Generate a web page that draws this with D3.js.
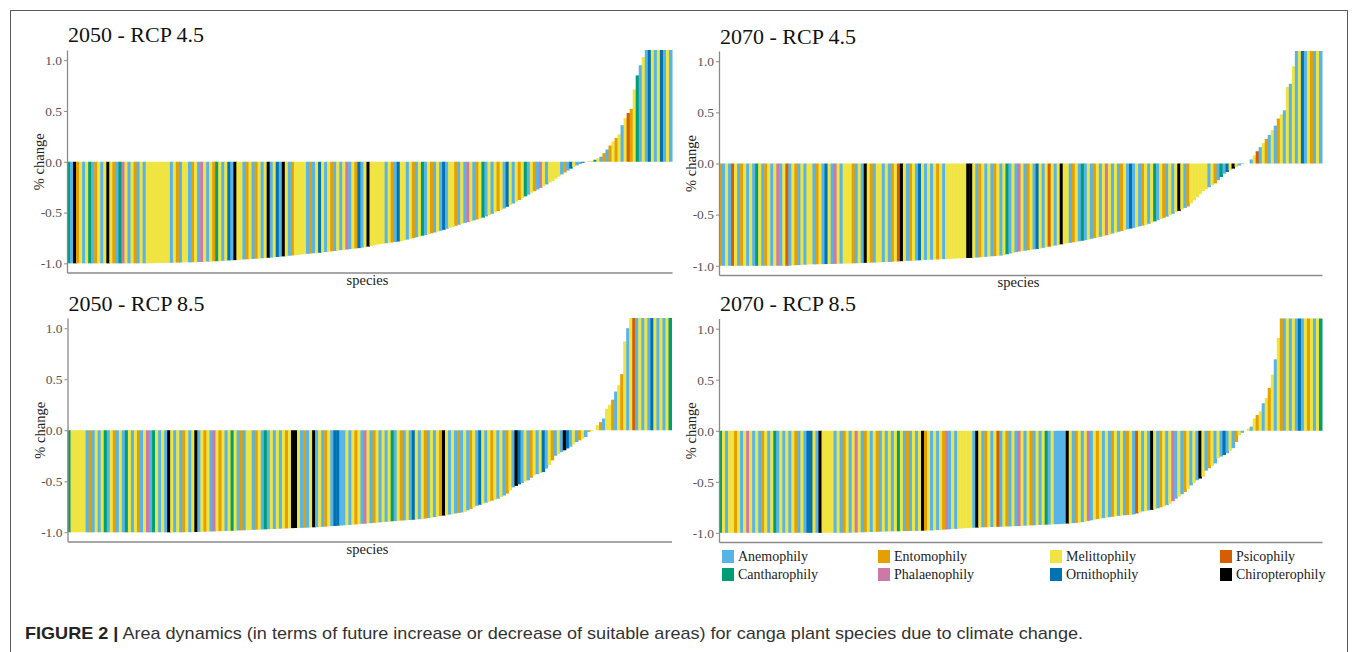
<!DOCTYPE html>
<html>
<head>
<meta charset="utf-8">
<script src="https://cdn.jsdelivr.net/npm/d3@7"></script>
<style>
	body { margin: 0; background: #fff; }
	svg { display: block; }
</style>
</head>
<body>
<div class="figure"></div>
<script>
// pollination syndromes (legend order and one-letter codes used below)
var syndromes = ["Anemophily", "Cantharophily", "Entomophily", "Phalaenophily", "Melittophily", "Ornithophily", "Psicophily", "Chiropterophily"];
var syndromeCodes = ["A", "C", "E", "P", "M", "O", "S", "K"];

var panelTitles = ["2050 - RCP 4.5", "2070 - RCP 4.5", "2050 - RCP 8.5", "2070 - RCP 8.5"];
var yTicks = [-1, -0.5, 0, 0.5, 1];

// % change of suitable area per species, sorted, one array per scenario
var change2050rcp45 = [
	-1,-1,-1,-1,-1,-1,-1,-1,-1,-1,
	-1,-1,-1,-1,-1,-1,-1,-1,-1,-1,
	-1,-1,-1,-1,-1,-1,-1,-0.999,-0.998,-0.998,
	-0.997,-0.997,-0.996,-0.996,-0.995,-0.994,-0.993,-0.992,-0.991,-0.99,
	-0.99,-0.989,-0.988,-0.987,-0.986,-0.985,-0.983,-0.982,-0.98,-0.979,
	-0.977,-0.975,-0.973,-0.971,-0.97,-0.968,-0.966,-0.964,-0.962,-0.96,
	-0.958,-0.956,-0.954,-0.952,-0.95,-0.948,-0.945,-0.943,-0.94,-0.937,
	-0.934,-0.931,-0.928,-0.925,-0.922,-0.919,-0.916,-0.913,-0.909,-0.906,
	-0.903,-0.9,-0.9,-0.896,-0.892,-0.888,-0.885,-0.882,-0.878,-0.874,
	-0.87,-0.867,-0.864,-0.86,-0.857,-0.853,-0.85,-0.845,-0.84,-0.835,
	-0.828,-0.822,-0.816,-0.81,-0.806,-0.802,-0.798,-0.794,-0.79,-0.785,
	-0.78,-0.773,-0.766,-0.758,-0.751,-0.743,-0.736,-0.728,-0.72,-0.712,
	-0.704,-0.696,-0.688,-0.68,-0.67,-0.66,-0.65,-0.64,-0.63,-0.62,
	-0.61,-0.602,-0.594,-0.586,-0.577,-0.568,-0.559,-0.55,-0.538,-0.525,
	-0.512,-0.498,-0.485,-0.472,-0.46,-0.443,-0.426,-0.41,-0.393,-0.376,
	-0.358,-0.34,-0.323,-0.306,-0.29,-0.273,-0.257,-0.24,-0.223,-0.206,
	-0.19,-0.168,-0.147,-0.125,-0.106,-0.087,-0.068,-0.05,-0.036,-0.022,
	-0.01,-0.005,0.003,0.01,0.02,0.035,0.05,0.085,0.12,0.16,
	0.2,0.235,0.27,0.36,0.43,0.48,0.52,0.71,0.85,0.95,
	1.03,1.1,1.1,1.1,1.1,1.1,1.1,1.1,1.1,1.1
];
var syndrome2050rcp45 = [
	"CAKEMAMCAE","MAMKMEACPM","AMEAMAMMMM","MMMMAMEAMM","AEMAPMAMEC",
	"MAMOAKMMAE","MAEMAMKAMO","AKMAEMMMMA","EAMOMAMEAM","AMPAMEOAMK",
	"MMMMMAMEAO","MMAMEAMCAM","EAMAOAMMEA","MAPMAEMCAM","AMEMAOMAME",
	"MCAMEAPMAM","MMMAEAOMAA","OMAMCMAEAE","MEMAMSEMCA","MAOMAMOAMA"
];

var change2070rcp45 = [
	-1,-1,-1,-1,-1,-1,-1,-1,-1,-1,
	-1,-1,-1,-1,-1,-1,-1,-1,-1,-1,
	-1,-1,-1,-0.998,-0.996,-0.994,-0.993,-0.991,-0.989,-0.987,
	-0.986,-0.986,-0.985,-0.984,-0.984,-0.983,-0.982,-0.982,-0.981,-0.98,
	-0.979,-0.978,-0.978,-0.977,-0.976,-0.975,-0.974,-0.972,-0.971,-0.97,
	-0.969,-0.968,-0.967,-0.966,-0.964,-0.963,-0.962,-0.96,-0.958,-0.957,
	-0.955,-0.954,-0.952,-0.951,-0.949,-0.948,-0.946,-0.945,-0.943,-0.942,
	-0.941,-0.94,-0.938,-0.937,-0.935,-0.934,-0.932,-0.931,-0.929,-0.928,
	-0.927,-0.925,-0.924,-0.923,-0.921,-0.92,-0.917,-0.915,-0.912,-0.91,
	-0.907,-0.905,-0.902,-0.9,-0.894,-0.887,-0.88,-0.873,-0.866,-0.86,
	-0.856,-0.852,-0.848,-0.843,-0.839,-0.835,-0.83,-0.824,-0.818,-0.813,
	-0.807,-0.801,-0.796,-0.79,-0.785,-0.78,-0.775,-0.77,-0.765,-0.76,
	-0.755,-0.749,-0.742,-0.736,-0.729,-0.722,-0.716,-0.71,-0.701,-0.693,
	-0.684,-0.676,-0.667,-0.659,-0.65,-0.643,-0.636,-0.629,-0.621,-0.614,
	-0.607,-0.6,-0.589,-0.577,-0.566,-0.554,-0.543,-0.531,-0.52,-0.506,
	-0.491,-0.477,-0.463,-0.449,-0.434,-0.42,-0.39,-0.36,-0.33,-0.3,
	-0.27,-0.251,-0.232,-0.214,-0.195,-0.163,-0.132,-0.1,-0.083,-0.067,
	-0.05,-0.035,-0.02,-0.005,-0.002,0,0.04,0.08,0.12,0.16,
	0.2,0.24,0.28,0.325,0.37,0.44,0.48,0.52,0.75,0.78,
	0.95,1.1,1.1,1.1,1.1,1.1,1.1,1.1,1.1,1.1
];
var syndrome2070rcp45 = [
	"EAMASMAEMA","MACMAEMAMP","AMSAMEAMAM","MAEMAOMAPM","AMMMEAMAKM",
	"EAMMAMAEMS","KMAEMAOMAM","AMEMAMMMMM","MMKKMAEMAM","AEMAMCAMAP",
	"MAEMAOMAMS","MAMKMMAEMA","CAMAEMAMPM","AMAEMAOAMA","EMAMCAMEAM",
	"AMKMAEMMMM","MMAMEACAOM","KMAAMEAMSA","MEAMAEMAMA","MAMOAMEAMA"
];

var change2050rcp85 = [
	-1,-1,-1,-1,-1,-1,-1,-1,-1,-1,
	-1,-1,-1,-1,-1,-1,-1,-1,-1,-1,
	-1,-1,-1,-1,-1,-1,-1,-1,-1,-1,
	-1,-1,-1,-1,-1,-1,-1,-1,-0.999,-0.999,
	-0.999,-0.998,-0.997,-0.996,-0.995,-0.994,-0.993,-0.992,-0.991,-0.99,
	-0.989,-0.988,-0.987,-0.986,-0.985,-0.984,-0.982,-0.981,-0.98,-0.978,
	-0.977,-0.976,-0.974,-0.973,-0.972,-0.971,-0.969,-0.968,-0.967,-0.966,
	-0.964,-0.963,-0.962,-0.96,-0.959,-0.958,-0.957,-0.956,-0.955,-0.954,
	-0.952,-0.951,-0.95,-0.948,-0.946,-0.944,-0.942,-0.94,-0.938,-0.935,
	-0.933,-0.931,-0.929,-0.927,-0.924,-0.922,-0.92,-0.917,-0.915,-0.912,
	-0.91,-0.907,-0.905,-0.902,-0.9,-0.897,-0.895,-0.892,-0.89,-0.887,
	-0.885,-0.883,-0.881,-0.879,-0.877,-0.874,-0.872,-0.87,-0.865,-0.86,
	-0.855,-0.85,-0.845,-0.84,-0.836,-0.831,-0.826,-0.821,-0.815,-0.81,
	-0.805,-0.8,-0.785,-0.77,-0.755,-0.74,-0.73,-0.72,-0.71,-0.7,
	-0.69,-0.68,-0.67,-0.655,-0.64,-0.62,-0.59,-0.56,-0.545,-0.53,
	-0.515,-0.5,-0.49,-0.465,-0.44,-0.43,-0.42,-0.41,-0.375,-0.34,
	-0.295,-0.25,-0.232,-0.214,-0.196,-0.178,-0.16,-0.138,-0.115,-0.099,
	-0.082,-0.066,-0.016,-0.008,0,0.05,0.08,0.115,0.21,0.25,
	0.3,0.38,0.44,0.55,0.87,1,1.1,1.1,1.1,1.1,
	1.1,1.1,1.1,1.1,1.1,1.1,1.1,1.1,1.1,1.1
];
var syndrome2050rcp85 = [
	"CMMMMMAEAM","AMCAMEAMAC","MAMEAMPACM","AMAKMAMAEM","AMKAMEMAPM",
	"EMAMCMAEAM","MAEMACAMAM","AMEMKKMAEA","MKAMAEMAOO","AAMAMEMAPM",
	"AEMAMAMCAM","EAMAOMAMEA","MAMEKMAMAE","AMAEMAOMAM","EMAMAEMAKO",
	"AMAEMAMOAM","EAMAKOAMAE","MAEMAMEAMM","EAMEMAMSAM","AMAOMAMAMC"
];

var change2070rcp85 = [
	-1,-1,-1,-1,-1,-1,-1,-1,-1,-1,
	-1,-1,-1,-1,-1,-1,-1,-1,-1,-1,
	-1,-1,-1,-1,-1,-1,-1,-1,-1,-1,
	-1,-1,-1,-1,-1,-1,-1,-1,-1,-1,
	-1,-1,-1,-0.999,-0.998,-0.997,-0.996,-0.995,-0.994,-0.993,
	-0.992,-0.991,-0.99,-0.989,-0.988,-0.987,-0.987,-0.986,-0.985,-0.985,
	-0.984,-0.983,-0.983,-0.982,-0.981,-0.981,-0.98,-0.979,-0.978,-0.978,
	-0.977,-0.975,-0.973,-0.971,-0.969,-0.967,-0.965,-0.963,-0.961,-0.959,
	-0.957,-0.955,-0.953,-0.951,-0.95,-0.949,-0.947,-0.946,-0.945,-0.944,
	-0.943,-0.942,-0.941,-0.94,-0.939,-0.938,-0.937,-0.936,-0.934,-0.933,
	-0.932,-0.93,-0.929,-0.927,-0.926,-0.925,-0.923,-0.922,-0.92,-0.919,
	-0.918,-0.916,-0.915,-0.913,-0.911,-0.909,-0.907,-0.905,-0.903,-0.9,
	-0.895,-0.889,-0.883,-0.877,-0.871,-0.866,-0.86,-0.856,-0.851,-0.847,
	-0.842,-0.838,-0.834,-0.83,-0.828,-0.825,-0.823,-0.82,-0.81,-0.8,
	-0.79,-0.785,-0.78,-0.775,-0.77,-0.76,-0.75,-0.74,-0.728,-0.715,
	-0.69,-0.665,-0.645,-0.622,-0.6,-0.57,-0.535,-0.51,-0.485,-0.468,
	-0.45,-0.39,-0.367,-0.343,-0.32,-0.27,-0.253,-0.237,-0.22,-0.195,
	-0.17,-0.11,-0.043,-0.02,0,0.02,0.04,0.12,0.155,0.19,
	0.27,0.32,0.42,0.55,0.7,0.91,1.1,1.1,1.1,1.1,
	1.1,1.1,1.1,1.1,1.1,1.1,1.1,1.1,1.1,1.1
];
var syndrome2070rcp85 = [
	"CMAMMEMAMP","MAMAEMAMCA","MAMAMEAMAO","OMAKMMMMAM","AEMAMPMAEM",
	"AMEAMAMAMC","MAEAMAMKEM","AMAMEPAMAM","MMMMAKMAEM","AMSAMEAMAP",
	"MAMEAMAMCA","MAAAAKMAEM","AMPAMEMAMA","EMAMAEMASM","AMAKMAEMAM",
	"PAMAEMAMAK","MAEMAMAOAM","AEMACMAMEM","AMEMAMEAMA","MAOAMEMAMC"
];

var captionBold = "FIGURE 2 |";
var captionText = " Area dynamics (in terms of future increase or decrease of suitable areas) for canga plant species due to climate change.";

// colours (Okabe-Ito, same order as syndromes)
var palette = ["#56B4E9", "#009E73", "#E69F00", "#CC79A7", "#F0E442", "#0072B2", "#D55E00", "#000000"];
var colorOf = d3.scaleOrdinal().domain(syndromeCodes).range(palette);

var serif = "'Liberation Serif', 'Times New Roman', serif";

var svg = d3.select('.figure')
	.append('svg')
	.attr('width', 1358)
	.attr('height', 652);

//figure frame
svg.append('rect')
	.attr('x', 10.5)
	.attr('y', 10.5)
	.attr('width', 1337)
	.attr('height', 700)
	.attr('fill', 'none')
	.attr('stroke', '#5a5a5a')
	.attr('stroke-width', 1);

//panel boxes
var panels = [
	{ values: change2050rcp45, codes: syndrome2050rcp45.join(''), left: 67, right: 672, top: 50, bottom: 272.5, titleY: 42, species: true },
	{ values: change2070rcp45, codes: syndrome2070rcp45.join(''), left: 719, right: 1322, top: 51, bottom: 275, titleY: 44, species: true },
	{ values: change2050rcp85, codes: syndrome2050rcp85.join(''), left: 67.5, right: 671.5, top: 318, bottom: 541.5, titleY: 311, species: true },
	{ values: change2070rcp85, codes: syndrome2070rcp85.join(''), left: 719, right: 1322, top: 318.5, bottom: 542, titleY: 311, species: false }
];

panels.forEach(function (p, k) {
	var g = svg.append('g').attr('class', 'panel');

	var xScale = d3.scaleBand()
		.domain(d3.range(p.values.length))
		.range([p.left, p.right])
		.padding(0);

	var yScale = d3.scaleLinear()
		.domain([-1.09, 1.1])
		.range([p.bottom, p.top])
		.clamp(true);

	//bars
	g.append('g')
		.selectAll('rect')
		.data(p.values)
		.enter().append('rect')
		.attr('x', function (d, i) { return xScale(i); })
		.attr('width', xScale.bandwidth() + 0.5)
		.attr('y', function (d) { return yScale(Math.max(0, d)); })
		.attr('height', function (d) { return Math.abs(yScale(d) - yScale(0)); })
		.attr('fill', function (d, i) { return colorOf(p.codes.charAt(i % p.codes.length)); });

	//y axis
	var yAxis = d3.axisLeft(yScale)
		.tickValues(yTicks)
		.tickFormat(function (d) { return d.toFixed(1); })
		.tickSizeInner(3)
		.tickSizeOuter(0)
		.tickPadding(2);

	var ya = g.append('g')
		.attr('transform', 'translate(' + p.left + ',0)')
		.call(yAxis);
	ya.select('.domain').attr('stroke', '#8a8a8a').attr('stroke-width', 1.3);
	ya.selectAll('.tick line').attr('stroke', '#8a8a8a');
	ya.selectAll('.tick text')
		.attr('fill', '#555')
		.style('font-family', serif)
		.style('font-size', '13.5px');

	//x axis line only
	var xa = g.append('g')
		.attr('transform', 'translate(0,' + p.bottom + ')')
		.call(d3.axisBottom(xScale).tickValues([]).tickSizeOuter(0));
	xa.select('.domain').attr('stroke', '#8a8a8a').attr('stroke-width', 1.3);

	//titles
	g.append('text')
		.attr('x', p.left + 1)
		.attr('y', p.titleY)
		.style('font-family', serif)
		.style('font-size', '22px')
		.attr('fill', '#111')
		.text(panelTitles[k]);

	g.append('text')
		.attr('transform', 'translate(' + (p.left - 23) + ',' + yScale(0) + ') rotate(-90)')
		.attr('text-anchor', 'middle')
		.style('font-family', serif)
		.style('font-size', '14.5px')
		.attr('fill', '#222')
		.text('% change');

	if (p.species) {
		g.append('text')
			.attr('x', (p.left + p.right) / 2 - 2)
			.attr('y', p.bottom + 12)
			.attr('text-anchor', 'middle')
			.style('font-family', serif)
			.style('font-size', '14.5px')
			.attr('fill', '#222')
			.text('species');
	}
});

//legend
var legendCols = [722, 878, 1050, 1220];
var legendRows = [550, 568];
var legend = svg.append('g').attr('class', 'legend');
syndromes.forEach(function (name, i) {
	var cx = legendCols[Math.floor(i / 2)];
	var cy = legendRows[i % 2];
	legend.append('rect')
		.attr('x', cx)
		.attr('y', cy)
		.attr('width', 12)
		.attr('height', 13)
		.attr('fill', palette[i]);
	legend.append('text')
		.attr('x', cx + 16)
		.attr('y', cy + 11)
		.style('font-family', serif)
		.style('font-size', '14px')
		.attr('fill', '#222')
		.text(name);
});

//caption
var caption = svg.append('text')
	.attr('x', 25)
	.attr('y', 639)
	.attr('textLength', 1058)
	.attr('lengthAdjust', 'spacingAndGlyphs')
	.style('font-family', "'Liberation Sans', Arial, sans-serif")
	.style('font-size', '17px')
	.attr('fill', '#333');
caption.append('tspan').attr('font-weight', 'bold').attr('fill', '#222').text(captionBold);
caption.append('tspan').text(captionText);
</script>
</body>
</html>
